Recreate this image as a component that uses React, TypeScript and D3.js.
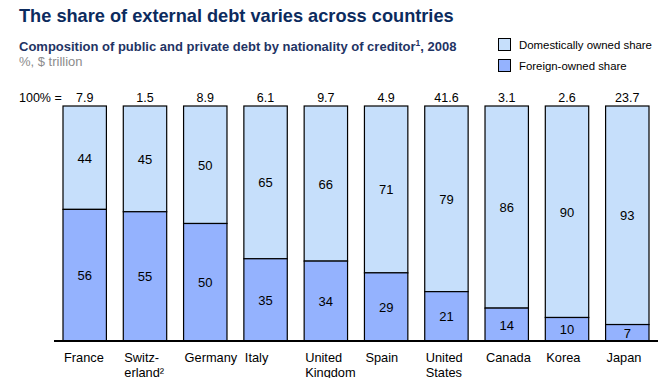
import React from "react";
import * as d3 from "d3";

const categories = ["France", "Switz-|erland²", "Germany", "Italy", "United|Kingdom", "Spain", "United|States", "Canada", "Korea", "Japan"];
const totals = ["7.9", "1.5", "8.9", "6.1", "9.7", "4.9", "41.6", "3.1", "2.6", "23.7"];
const foreign = [56, 55, 50, 35, 34, 29, 21, 14, 10, 7];
const domestic = [44, 45, 50, 65, 66, 71, 79, 86, 90, 93];
const legendLabels = ["Domestically owned share", "Foreign-owned share"];

const W = 667, H = 378;
const LIGHT = "#C6DFFB";
const DARK = "#94B2FE";
const FONT = "Arial, 'Liberation Sans', sans-serif";

export default function App() {
  const x = d3.scaleBand<number>().domain(d3.range(categories.length)).range([63, 649]).paddingInner(0.28).paddingOuter(0);
  const y = d3.scaleLinear().domain([0, 100]).range([341, 106]);
  const bw = x.bandwidth();
  return (
    <svg width={W} height={H} style={{ position: "absolute", left: 0, top: 0, background: "#fff" }} fontFamily={FONT}>
      <text x={19} y={22} fontSize={18.2} fontWeight="bold" fill="#0C2B5E">The share of external debt varies across countries</text>
      <text x={19} y={51} fontSize={13} fontWeight="bold" fill="#1F3464">
        Composition of public and private debt by nationality of creditor<tspan fontSize={8.5} dy={-5}>1</tspan><tspan dy={5}>, 2008</tspan>
      </text>
      <text x={19} y={66} fontSize={13} fill="#8C8C8C">%, $ trillion</text>
      {legendLabels.map((l, i) => (
        <g key={l}>
          <rect x={498.5} y={38.5 + i * 21} width={12} height={12} fill={i === 0 ? LIGHT : DARK} stroke="#000" strokeWidth={1} />
          <text x={519} y={49 + i * 21} fontSize={11.4} fill="#000">{l}</text>
        </g>
      ))}
      <text x={19} y={102} fontSize={12.5} fill="#000">100% =</text>
      {categories.map((c, i) => {
        const x0 = x(i)!;
        const cx = x0 + bw / 2;
        const yb = y(foreign[i]);
        const lines = c.split("|");
        return (
          <g key={c}>
            <text x={cx} y={102} fontSize={12.5} textAnchor="middle" fill="#000">{totals[i]}</text>
            <rect x={x0} y={y(100)} width={bw} height={yb - y(100)} fill={LIGHT} stroke="#000" strokeWidth={1.2} />
            <rect x={x0} y={yb} width={bw} height={y(0) - yb} fill={DARK} stroke="#000" strokeWidth={1.2} />
            <text x={cx} y={(y(100) + yb) / 2 + 5} fontSize={13} textAnchor="middle" fill="#000">{domestic[i]}</text>
            <text x={cx} y={(yb + y(0)) / 2 + 5} fontSize={13} textAnchor="middle" fill="#000">{foreign[i]}</text>
            {lines.map((ln, j) => (
              <text key={j} x={x0 + 1} y={362 + j * 15} fontSize={12.8} fill="#000">{ln}</text>
            ))}
          </g>
        );
      })}
      <line x1={54} x2={658} y1={341} y2={341} stroke="#000" strokeWidth={2.2} />
    </svg>
  );
}
